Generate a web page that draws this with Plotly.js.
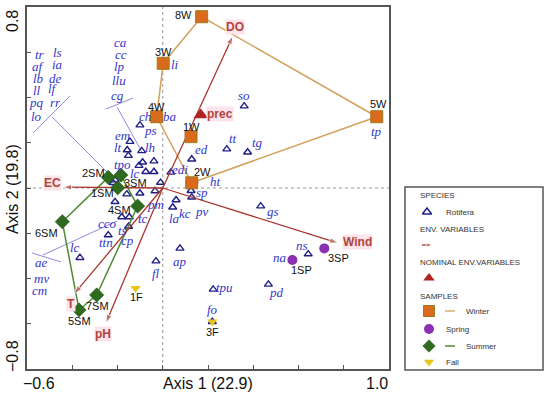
<!DOCTYPE html>
<html><head><meta charset="utf-8">
<script src="https://cdn.plot.ly/plotly-3.0.1.min.js"></script>
<style>html,body{margin:0;padding:0;background:#fff}#plot{width:550px;height:395px}</style>
</head><body><div id="plot"></div>
<script>
// ---------------- DATA ----------------
const winterNames = ['8W','3W','4W','1W','2W','5W'];
const winterAx1 = [0.172, 0.002, -0.027, 0.125, 0.128, 0.946];
const winterAx2 = [0.757, 0.551, 0.315, 0.227, 0.023, 0.315];
const summerNames = ['2SM','3SM','1SM','4SM','6SM','5SM','7SM'];
const summerAx1 = [-0.241, -0.185, -0.199, -0.111, -0.444, -0.370, -0.292];
const summerAx2 = [0.047, 0.057, 0.001, -0.080, -0.149, -0.539, -0.473];
const springNames = ['1SP','3SP'];
const springAx1 = [0.573, 0.714];
const springAx2 = [-0.318, -0.267];
const fallNames = ['1F','3F'];
const fallAx1 = [-0.120, 0.219];
const fallAx2 = [-0.443, -0.591];
const winterHull = ['3W','8W','5W','2W','4W','3W'];
const summerHull = ['2SM','3SM','4SM','7SM','5SM','6SM','2SM'];

const envNames = ['DO','EC','Wind','T','pH'];
const envAx1 = [0.310, -0.441, 0.775, -0.392, -0.251];
const envAx2 = [0.672, 0.004, -0.243, -0.469, -0.597];
const nominalNames = ['prec'];
const nominalAx1 = [0.168];
const nominalAx2 = [0.323];

// Rotifera species scores (triangles)
const rotiferaAx1 = [0.360,0.283,0.375,0.128,0.036,0.125,0.128,0.059,0.044,0.433,0.643,0.467,0.223,0.076,-0.030,-0.366,-0.241,-0.181,-0.148,-0.151,-0.034,-0.010,-0.101,-0.145,-0.157,-0.152,-0.093,-0.089,-0.039,-0.105,-0.075,-0.039,-0.211,-0.219,-0.159,-0.101,-0.211,0.138,0.573,0.219,0.946,-0.027,0.002];
const rotiferaAx2 = [0.362,0.172,0.158,0.127,0.069,-0.012,-0.041,-0.053,-0.085,-0.080,-0.292,-0.426,-0.448,-0.267,-0.323,-0.308,-0.208,-0.128,-0.128,-0.170,-0.013,0.024,0.278,0.205,0.168,0.143,0.164,0.114,0.119,0.099,0.072,0.072,0.035,0.023,-0.027,-0.023,-0.061,0.031,-0.318,-0.591,0.315,0.315,0.551];

// Species names (label text)
const speciesLabels = ['em','lt','lh','tpo','lc','ps','ch','ba','li','edi','ed','tt','tg','so','ht','sp','pv','kc','la','gs','ns','na','pd','tpu','fo','ap','fl','pm','tc','cco','ts','cp','ttn','lc','tp'];
const groupA1 = ['tr','af','lb','ll','pq','lo'];
const groupA2 = ['ls','ia','de','lf','rr'];
const groupB = ['ca','cc','lp','llu','cg'];
const groupC = ['ae','mv','cm'];

// ---------------- PLACEMENT (layout only) ----------------
const speciesLabelPos = [[-0.176,0.234],[-0.198,0.177],[-0.056,0.181],[-0.180,0.102],[-0.122,0.062],[-0.056,0.256],[-0.078,0.314],[0.032,0.314],[0.054,0.544],[0.076,0.084],[0.173,0.172],[0.310,0.221],[0.417,0.199],[0.358,0.407],[0.231,0.027],[0.173,-0.018],[0.173,-0.102],[0.098,-0.111],[0.050,-0.133],[0.487,-0.106],[0.615,-0.252],[0.518,-0.309],[0.504,-0.460],[0.275,-0.438],[0.218,-0.539],[0.076,-0.323],[-0.030,-0.376],[-0.034,-0.071],[-0.087,-0.133],[-0.246,-0.155],[-0.180,-0.186],[-0.154,-0.230],[-0.251,-0.243],[-0.388,-0.265],[0.943,0.248]];
const groupA1Pos = [[-0.543,0.588],[-0.551,0.535],[-0.551,0.486],[-0.556,0.433],[-0.556,0.380],[-0.556,0.314]];
const groupA2Pos = [[-0.467,0.597],[-0.467,0.544],[-0.476,0.486],[-0.485,0.438],[-0.476,0.380]];
const groupBPos = [[-0.185,0.641],[-0.185,0.588],[-0.189,0.535],[-0.193,0.477],[-0.198,0.411]];
const groupCPos = [[-0.534,-0.331],[-0.538,-0.398],[-0.543,-0.451]];
const leaderLines = [
  [[-0.573,0.243],[-0.410,0.407]], [[-0.489,0.314],[-0.220,0.044]],
  [[-0.251,0.349],[-0.131,0.398]], [[-0.202,0.358],[-0.092,0.159]],
  [[-0.578,-0.287],[-0.450,-0.327]], [[-0.529,-0.296],[-0.202,-0.146]]
];
// sample label shifts in px (right, down)
const sampleShift = {'8W':[-18,-2],'3W':[0,-11],'4W':[0,-10],'1W':[0,-10],'2W':[11,-11],'5W':[2,-13],
  '2SM':[-15,-4],'3SM':[15,8],'1SM':[-15,5],'4SM':[-18,4],'6SM':[-16,11],'7SM':[1,11],'5SM':[0,11],
  '1SP':[9,10],'3SP':[14,10],'1F':[1,9],'3F':[0,10]};
const envShift = {'DO':[2,-9],'EC':[-10,-4],'Wind':[19,-1],'T':[-3,10],'pH':[-3,11],'prec':[19,-1]};

const C = {arrow:'#A8362E', envText:'#B0453A', envBg:'#FDE3EA', sp:'#1F1F85', spText:'#3535C8',
  winterFill:'#DA6A1C', winterLine:'#D3A15C', summerFill:'#2E6B1E', summerLine:'#4F8A35',
  spring:'#8B2FB3', fall:'#E6C41A', prec:'#B22222', lead:'#8C8CE0'};

// ---------------- BUILD ----------------
const traces = [];
const ann = [];
const shapes = [];
const SANS = 'Liberation Sans, Arial, sans-serif';
const SERIF = 'Liberation Serif, Times New Roman, serif';

// leader lines (one trace, gaps between segments)
const leadX = [], leadY = [];
leaderLines.forEach(l => { leadX.push(l[0][0], l[1][0], null); leadY.push(l[0][1], l[1][1], null); });
traces.push({x:leadX, y:leadY, mode:'lines', line:{color:C.lead, width:1}, connectgaps:false, hoverinfo:'skip', showlegend:false});

// species triangles
traces.push({x:rotiferaAx1, y:rotiferaAx2, mode:'markers', showlegend:false,
  marker:{symbol:'triangle-up-open', size:7, color:C.sp, line:{width:1.4, color:C.sp}}});

// hulls
function hull(names, allN, ax1, ax2, color){
  const xs=[], ys=[];
  names.forEach(n => {const i = allN.indexOf(n); xs.push(ax1[i]); ys.push(ax2[i]);});
  traces.push({x:xs, y:ys, mode:'lines', line:{color:color, width:1.5}, showlegend:false, hoverinfo:'skip'});
}
hull(winterHull, winterNames, winterAx1, winterAx2, C.winterLine);
hull(summerHull, summerNames, summerAx1, summerAx2, C.summerLine);

// env arrows
envNames.forEach((n,i) => {
  traces.push({x:[0,envAx1[i]], y:[0,envAx2[i]], mode:'lines+markers', showlegend:false, hoverinfo:'skip',
    line:{color:C.arrow, width:1.3}, marker:{symbol:'arrow', size:[0,9], angleref:'previous', color:C.arrow}});
  const s = envShift[n];
  ann.push({x:envAx1[i], y:envAx2[i], xref:'x', yref:'y', text:n, showarrow:false, xshift:s[0], yshift:-s[1],
    font:{family:SANS, size:12, color:C.envText, weight:'bold'}, bgcolor:C.envBg, borderpad:0});
});
// nominal
traces.push({x:nominalAx1, y:nominalAx2, mode:'markers', showlegend:false, marker:{symbol:'triangle-up', size:13, color:C.prec}});
nominalNames.forEach((n,i) => {
  const s = envShift[n];
  ann.push({x:nominalAx1[i], y:nominalAx2[i], text:n, showarrow:false, xshift:s[0], yshift:-s[1],
    font:{family:SANS, size:12, color:C.envText, weight:'bold'}, bgcolor:C.envBg, borderpad:0});
});

// samples
traces.push({x:winterAx1, y:winterAx2, mode:'markers', showlegend:false, marker:{symbol:'square', size:12, color:C.winterFill, line:{color:'#9C7A1E', width:1}}});
traces.push({x:summerAx1, y:summerAx2, mode:'markers', showlegend:false, marker:{symbol:'diamond', size:11, color:C.summerFill, line:{color:'#1E4D12', width:0.5}}});
traces.push({x:springAx1, y:springAx2, mode:'markers', showlegend:false, marker:{symbol:'circle', size:10, color:C.spring}});
traces.push({x:fallAx1, y:fallAx2, mode:'markers', showlegend:false, marker:{symbol:'triangle-down', size:9, color:C.fall}});

function sampleLabels(names, ax1, ax2){
  names.forEach((n,i) => {
    const s = sampleShift[n];
    ann.push({x:ax1[i], y:ax2[i], text:n, showarrow:false, xshift:s[0], yshift:-s[1], font:{family:SANS, size:11, color:'#111'}});
  });
}
sampleLabels(winterNames, winterAx1, winterAx2);
sampleLabels(summerNames, summerAx1, summerAx2);
sampleLabels(springNames, springAx1, springAx2);
sampleLabels(fallNames, fallAx1, fallAx2);

// species labels
function spLabels(names, pos){
  names.forEach((n,i) => ann.push({x:pos[i][0], y:pos[i][1], text:'<i>'+n+'</i>', showarrow:false,
    font:{family:SERIF, size:13, color:C.spText}}));
}
spLabels(speciesLabels, speciesLabelPos);
spLabels(groupA1, groupA1Pos);
spLabels(groupA2, groupA2Pos);
spLabels(groupB, groupBPos);
spLabels(groupC, groupCPos);

// zero dotted lines
shapes.push({type:'line', xref:'x', yref:'y', x0:0, x1:0, y0:-0.8, y1:0.8, line:{color:'#999', width:1, dash:'dot'}, layer:'below'});
shapes.push({type:'line', xref:'x', yref:'y', x0:-0.6, x1:1.0, y0:0, y1:0, line:{color:'#999', width:1, dash:'dot'}, layer:'below'});

// axis texts (pixel frame x2/y2)
function pxText(x, y, t, opt){ ann.push(Object.assign({x:x, y:y, xref:'x2', yref:'y2', text:t, showarrow:false}, opt)); }
const axFont = {family:SANS, size:16, color:'#111'};
pxText(39, 383, '−0.6', {font:axFont});
pxText(208, 383, 'Axis 1 (22.9)', {font:axFont});
pxText(377, 383, '1.0', {font:axFont});
pxText(12, 21, '0.8', {font:axFont, textangle:-90});
pxText(12, 189, 'Axis 2 (19.8)', {font:axFont, textangle:-90});
pxText(12, 356, '−0.8', {font:axFont, textangle:-90});

// legend box
shapes.push({type:'rect', xref:'x2', yref:'y2', x0:405, x1:543, y0:187, y1:370, line:{color:'#555', width:1.5}});
const lgFont = {family:SANS, size:8, color:'#333'};
[['SPECIES',418,195],['Rotifera',444,212],['ENV. VARIABLES',418,229],['NOMINAL ENV.VARIABLES',418,262],
 ['SAMPLES',418,296],['Winter',464,311],['Spring',444,329],['Summer',464,346],['Fall',444,362]]
 .forEach(t => pxText(t[1], t[2], t[0], {xanchor:'left', font:lgFont}));
const lg = (x,y,m) => traces.push({x:[x], y:[y], xaxis:'x2', yaxis:'y2', mode:'markers', showlegend:false, hoverinfo:'skip', marker:m});
lg(427,212,{symbol:'triangle-up-open', size:8, color:C.sp, line:{width:1.5,color:C.sp}});
lg(429,278,{symbol:'triangle-up', size:10, color:C.prec});
lg(429,311,{symbol:'square', size:11, color:C.winterFill, line:{color:'#9C7A1E', width:1}});
lg(429,329,{symbol:'circle', size:10, color:C.spring});
lg(429,346,{symbol:'diamond', size:10, color:C.summerFill});
lg(429,362,{symbol:'triangle-down', size:9, color:C.fall});
traces.push({x:[422,433], y:[245,245], xaxis:'x2', yaxis:'y2', mode:'lines+markers', showlegend:false, hoverinfo:'skip',
  line:{color:C.arrow, width:1.3}, marker:{symbol:'arrow', size:[0,7], angleref:'previous', color:C.arrow}});
traces.push({x:[445,455], y:[311,311], xaxis:'x2', yaxis:'y2', mode:'lines', showlegend:false, hoverinfo:'skip', line:{color:C.winterLine, width:1.3}});
traces.push({x:[445,455], y:[346,346], xaxis:'x2', yaxis:'y2', mode:'lines', showlegend:false, hoverinfo:'skip', line:{color:C.summerLine, width:1.5}});

const axBase = {showgrid:false, zeroline:false, ticks:'inside', ticklen:4, tickwidth:1, tickcolor:'#555',
  dtick:0.2, tick0:0, showticklabels:false, showline:true, mirror:true, linecolor:'#555', linewidth:2, fixedrange:true};
const layout = {
  width:550, height:395, margin:{l:0,r:0,t:0,b:0}, paper_bgcolor:'#fff', plot_bgcolor:'rgba(0,0,0,0)',
  showlegend:false,
  xaxis:Object.assign({}, axBase, {range:[-0.6,1.0], domain:[27/550, 389/550], anchor:'y'}),
  yaxis:Object.assign({}, axBase, {range:[-0.8,0.8], domain:[26/395, 388/395], anchor:'x'}),
  xaxis2:{domain:[0,1], range:[0,550], visible:false, anchor:'y2', fixedrange:true},
  yaxis2:{domain:[0,1], range:[395,0], visible:false, anchor:'x2', fixedrange:true},
  annotations:ann, shapes:shapes
};
Plotly.newPlot('plot', traces, layout, {staticPlot:true, displayModeBar:false});
</script></body></html>
